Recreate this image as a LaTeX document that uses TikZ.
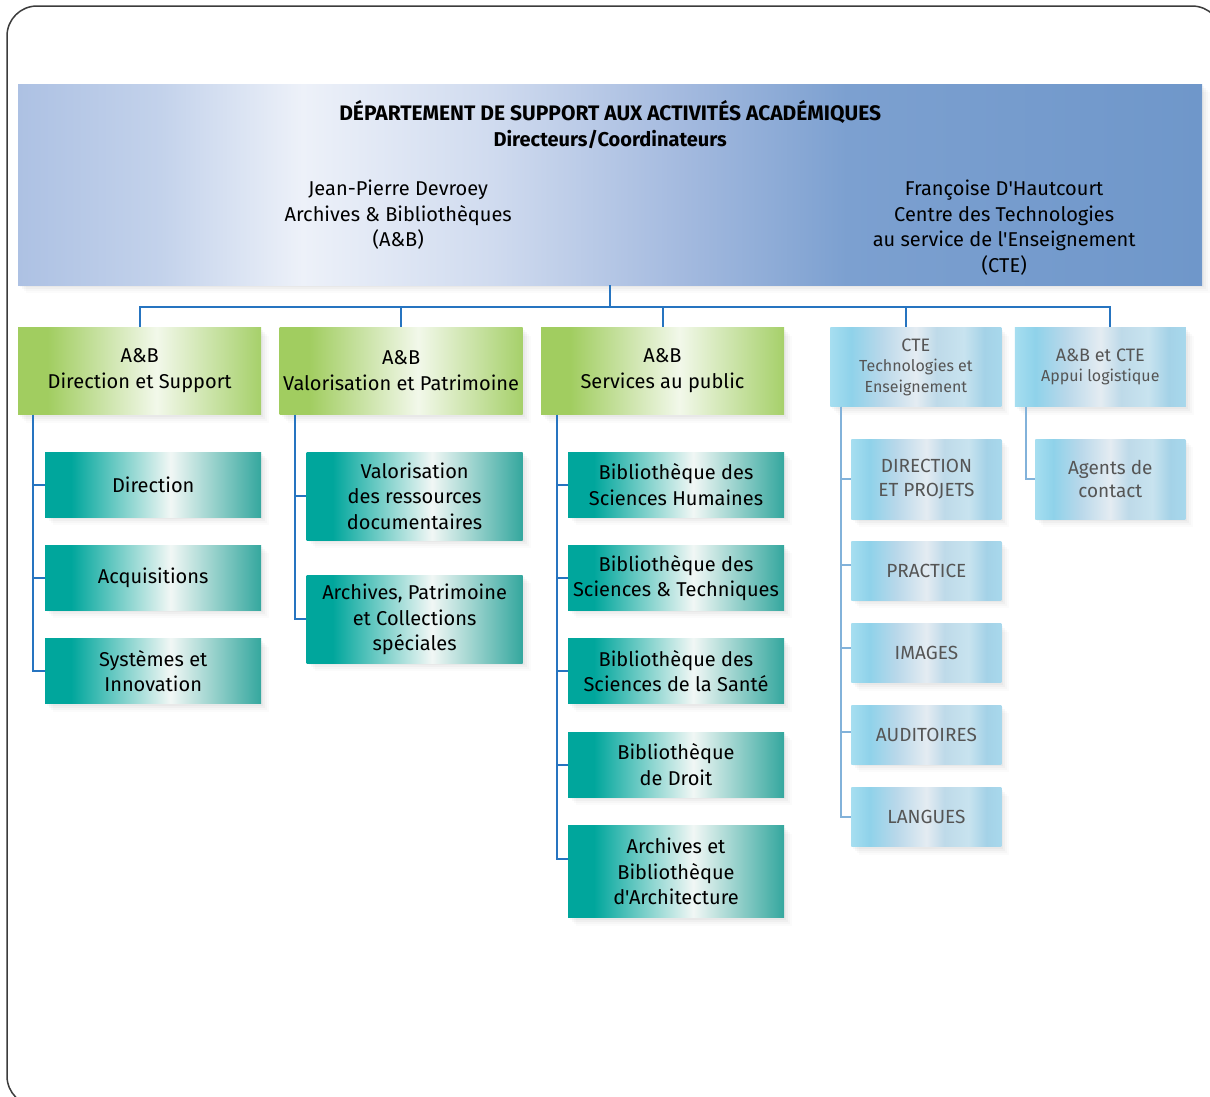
\documentclass[tikz,border=0pt]{standalone}
\usepackage{fontspec}
\newfontfamily\firafont{Fira Sans}
\usepackage{xcolor}
\usepackage{tikz}
\usetikzlibrary{positioning, calc, shadows}
\definecolor{linkblue}{RGB}{38,116,192}
\definecolor{softblue}{RGB}{130,178,218}
\definecolor{ctegray}{RGB}{85,85,85}
\definecolor{framegray}{RGB}{60,60,60}
% header colours
\definecolor{hdA}{RGB}{173,193,227}
\definecolor{hdB}{RGB}{195,210,235}
\definecolor{hdC}{RGB}{237,241,249}
\definecolor{hdD}{RGB}{208,219,239}
\definecolor{hdE}{RGB}{164,186,223}
\definecolor{hdF}{RGB}{124,160,208}
\definecolor{hdG}{RGB}{111,151,202}
% green, teal, sky
\definecolor{grA}{RGB}{161,205,96}
\definecolor{grW}{RGB}{242,248,234}
\definecolor{grB}{RGB}{166,208,106}
\definecolor{tlA}{RGB}{0,166,156}
\definecolor{tlW}{RGB}{241,247,245}
\definecolor{tlB}{RGB}{52,167,158}
\definecolor{skA}{RGB}{166,222,240}
\definecolor{skB}{RGB}{143,210,234}
\definecolor{skC}{RGB}{185,216,234}
\definecolor{skD}{RGB}{228,236,242}
\definecolor{skE}{RGB}{190,218,233}
\definecolor{skF}{RGB}{200,227,239}
\definecolor{skG}{RGB}{164,210,231}
\definecolor{skH}{RGB}{168,216,236}

\pgfdeclarehorizontalshading{headband}{100bp}{color(0bp)=(hdA); color(25bp)=(hdA); color(31bp)=(hdB); color(37bp)=(hdC); color(45bp)=(hdD); color(53bp)=(hdE); color(60bp)=(hdF); color(75bp)=(hdG); color(100bp)=(hdG)}
\pgfdeclarehorizontalshading{greenband}{100bp}{color(0bp)=(grA); color(31bp)=(grA); color(53.5bp)=(grW); color(75bp)=(grB); color(100bp)=(grB)}
\pgfdeclarehorizontalshading{tealband}{100bp}{color(0bp)=(tlA); color(31bp)=(tlA); color(54bp)=(tlW); color(75bp)=(tlB); color(100bp)=(tlB)}
\pgfdeclarehorizontalshading{skyband}{100bp}{color(0bp)=(skA); color(25bp)=(skA); color(31bp)=(skB); color(40bp)=(skC); color(50bp)=(skD); color(56bp)=(skE); color(64bp)=(skF); color(70bp)=(skG); color(75bp)=(skH); color(100bp)=(skH)}

\newcommand{\ctesub}{\fontsize{16}{20.5}\selectfont}
\newcommand{\titlebig}{\fontsize{21}{26}\selectfont}

\begin{document}
\begin{tikzpicture}[
    x=1pt, y=-1pt,
    node distance=28pt,
    boxshadow/.style={drop shadow={opacity=0.05, shadow xshift=2pt, shadow yshift=-2pt},
                      drop shadow={opacity=0.05, shadow xshift=4pt, shadow yshift=-4pt},
                      drop shadow={opacity=0.04, shadow xshift=6pt, shadow yshift=-6pt},
                      drop shadow={opacity=0.03, shadow xshift=8pt, shadow yshift=-8pt}},
    head/.style={rectangle, shading=headband, minimum width=1184pt, minimum height=201pt, inner sep=0pt, boxshadow},
    headtext/.style={align=center, inner sep=0pt, font=\firafont\fontsize{20}{25.5}\selectfont},
    unit/.style={rectangle, shading=greenband, minimum width=243pt, minimum height=87pt, inner sep=0pt, align=center, font=\firafont\fontsize{20}{26}\selectfont, boxshadow},
    leaf/.style={rectangle, shading=tealband, minimum width=216pt, minimum height=65pt, inner sep=0pt, align=center, font=\firafont\fontsize{20}{25.5}\selectfont, boxshadow},
    cteunit/.style={rectangle, shading=skyband, minimum width=171pt, minimum height=79pt, inner sep=0pt, align=center, text=ctegray, font=\firafont\fontsize{18}{20.5}\selectfont, boxshadow},
    cteleaf/.style={rectangle, shading=skyband, minimum width=150pt, minimum height=59pt, inner sep=0pt, align=center, text=ctegray, font=\firafont\fontsize{19}{23.5}\selectfont, boxshadow},
    link/.style={draw=linkblue, line width=2pt},
    softlink/.style={draw=softblue, line width=2pt}
]
\useasboundingbox (0,0) rectangle (1210,1096);
\fill[white] (0,0) rectangle (1210,1096);
\draw[framegray, line width=1.5pt, rounded corners=30pt] (7,6) rectangle (1222,1106);

% Department header
\node[head, anchor=north west] (dept) at (18,84) {};
\node[headtext, font=\firafont\bfseries\fontsize{20}{26}\selectfont, below=16pt of dept.north] (title) {{\titlebig DÉPARTEMENT DE SUPPORT AUX ACTIVITÉS ACADÉMIQUES}\\Directeurs/Coordinateurs};
\node[headtext, below=96pt of dept.north, xshift=-212pt] (abhead) {Jean-Pierre Devroey\\Archives \& Bibliothèques\\(A\&B)};
\node[headtext, below=96pt of dept.north, xshift=394pt] (ctehead) {Françoise D'Hautcourt\\Centre des Technologies\\au service de l'Enseignement\\(CTE)};

% A&B services
\node[unit, below=42pt of dept.south west, anchor=north west] (support) {A\&B\\Direction et Support};
\node[unit, right=18pt of support] (heritage) {A\&B\\Valorisation et Patrimoine};
\node[unit, right=18pt of heritage] (public) {A\&B\\Services au public};

% CTE services
\node[cteunit, right=46pt of public.north east, anchor=north west] (cte) {CTE\\\ctesub Technologies et\\\ctesub Enseignement};
\node[cteunit, right=13pt of cte] (logis) {A\&B et CTE\\\ctesub Appui logistique};

% Direction et Support
\node[leaf, below=37pt of support, xshift=13.5pt] (direction) {Direction};
\node[leaf, below=of direction] (acquis) {Acquisitions};
\node[leaf, below=of acquis] (systems) {Systèmes et\\Innovation};

% Valorisation et Patrimoine
\node[leaf, minimum height=88pt, below=37pt of heritage, xshift=13.5pt] (valres) {Valorisation\\des ressources\\documentaires};
\node[leaf, minimum height=88pt, below=35pt of valres] (archpat) {Archives, Patrimoine\\et Collections\\spéciales};

% Services au public
\node[leaf, below=37pt of public, xshift=13.5pt] (bsh) {Bibliothèque des\\Sciences Humaines};
\node[leaf, below=of bsh] (bst) {Bibliothèque des\\Sciences \& Techniques};
\node[leaf, below=of bst] (bss) {Bibliothèque des\\Sciences de la Santé};
\node[leaf, below=of bss] (droit) {Bibliothèque\\de Droit};
\node[leaf, minimum height=92pt, below=of droit] (archi) {Archives et\\Bibliothèque\\d'Architecture};

% CTE cells
\node[cteleaf, minimum height=80pt, below=32pt of cte, xshift=10.5pt] (projets) {DIRECTION\\ET PROJETS};
\node[cteleaf, below=22pt of projets] (practice) {PRACTICE};
\node[cteleaf, below=23pt of practice] (images) {IMAGES};
\node[cteleaf, below=22pt of images] (audit) {AUDITOIRES};
\node[cteleaf, below=23pt of audit] (langues) {LANGUES};

% Appui logistique
\node[cteleaf, minimum height=80pt, below=32pt of logis, xshift=10pt] (agents) {Agents de\\contact};

% Lines
\draw[link] (dept.south) -- ++(0,22) -| (support.north);
\draw[link] (dept.south) -- ++(0,22) -| (heritage.north);
\draw[link] (dept.south) -- ++(0,22) -| (public.north);
\draw[link] (dept.south) -- ++(0,22) -| ([xshift=-10pt]cte.north);
\draw[link] (dept.south) -- ++(0,22) -| ([xshift=10pt]logis.north);

\draw[link] ([xshift=15pt]support.south west) |- (direction.west);
\draw[link] ([xshift=15pt]support.south west) |- (acquis.west);
\draw[link] ([xshift=15pt]support.south west) |- (systems.west);

\draw[link] ([xshift=16pt]heritage.south west) |- (valres.west);
\draw[link] ([xshift=16pt]heritage.south west) |- (archpat.west);

\draw[link] ([xshift=16pt]public.south west) |- (bsh.west);
\draw[link] ([xshift=16pt]public.south west) |- (bst.west);
\draw[link] ([xshift=16pt]public.south west) |- (bss.west);
\draw[link] ([xshift=16pt]public.south west) |- (droit.west);
\draw[link] ([xshift=16pt]public.south west) |- ([yshift=13pt]archi.west);

\draw[softlink] ([xshift=11pt]cte.south west) |- (projets.west);
\draw[softlink] ([xshift=11pt]cte.south west) |- ([yshift=6pt]practice.west);
\draw[softlink] ([xshift=11pt]cte.south west) |- ([yshift=5pt]images.west);
\draw[softlink] ([xshift=11pt]cte.south west) |- ([yshift=3pt]audit.west);
\draw[softlink] ([xshift=11pt]cte.south west) |- (langues.west);

\draw[softlink] ([xshift=11pt]logis.south west) |- (agents.west);

\end{tikzpicture}
\end{document}
